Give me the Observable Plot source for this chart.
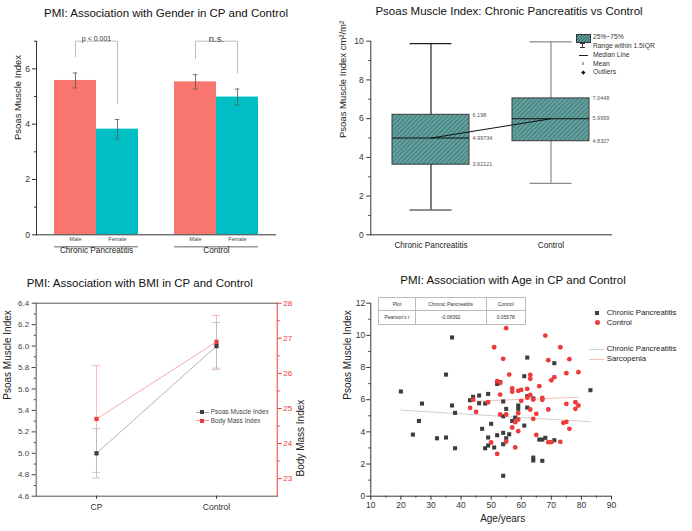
<!DOCTYPE html>
<html>
<head>
<meta charset="utf-8">
<script src="https://cdn.jsdelivr.net/npm/d3@7"></script>
<script src="https://cdn.jsdelivr.net/npm/@observablehq/plot@0.6"></script>
<style>
  html, body { margin: 0; padding: 0; background: #fff; }
  #fig { position: relative; width: 692px; height: 531px; overflow: hidden; background: #fff;
         font-family: Arial, "Liberation Sans", Helvetica, sans-serif; }
  #fig table { border-collapse: collapse; }
</style>
</head>
<body>
<div id="fig"></div>
<script>
// ---------------- Panel 1: PMI by gender ----------------
const genderGroups = ["Chronic Pancreatitis", "Control"];
const sexes = ["Male", "Female"];
const cpPmiBySex = [5.58, 3.82];
const cpSeBySex = [0.27, 0.35];
const ctrlPmiBySex = [5.53, 4.98];
const ctrlSeBySex = [0.26, 0.29];
const sigLabels = ["p < 0.001", "n.s."];
const genderTicks = [0, 2, 4, 6];
const genderMinorTicks = [1, 3, 5, 7];

// ---------------- Panel 2: box summary ----------------
const boxGroups = ["Chronic Pancreatitis", "Control"];
const boxMin = [1.28, 2.66];
const boxQ1 = [3.62121, 4.8327];
const boxMedian = [4.99734, 5.9959];
const boxQ3 = [6.198, 7.0448];
const boxMax = [9.87, 9.97];
const boxQ1Labels = ["3.62121", "4.8327"];
const boxMedianLabels = ["4.99734", "5.9959"];
const boxQ3Labels = ["6.198", "7.0448"];
const boxTicks = [0, 2, 4, 6, 8, 10];
const boxMinorTicks = [1, 3, 5, 7, 9];
const boxLegendLabels = ["25%~75%", "Range within 1.5IQR", "Median Line", "Mean", "Outliers"];

// ---------------- Panel 3: PMI and BMI ----------------
const bmiGroups = ["CP", "Control"];
const bmiPanelPmi = [5.0, 6.0];
const bmiPanelPmiErr = [0.23, 0.22];
const bmiValues = [24.7, 26.9];
const bmiErr = [1.52, 0.75];
const pmiTicks = [4.6, 4.8, 5.0, 5.2, 5.4, 5.6, 5.8, 6.0, 6.2, 6.4];
const pmiMinorTicks = [4.7, 4.9, 5.1, 5.3, 5.5, 5.7, 5.9, 6.1, 6.3];
const bmiTicks = [23, 24, 25, 26, 27, 28];
const bmiMinorTicks = [23.5, 24.5, 25.5, 26.5, 27.5];
const bmiLegendLabels = ["Psoas Muscle Index", "Body Mass Index"];

// ---------------- Panel 4: PMI vs age ----------------
const cpAge = [20,24,26,27,32,35,35,37,37,38,38,43,44,46,46,47,48,48,49,49,49,50,51,52,52,53,54,54,54,54,54,55,55,56,57,58,59,59,61,61,62,62,62,64,64,64,66,67,67,68,71,71,83];
const cpPmi = [6.51,3.83,4.68,5.76,3.6,7.56,3.65,9.87,5.64,5.18,2.98,5.97,6.18,6.26,5.78,4.19,5.76,2.98,6.36,3.65,3.15,4.5,3.03,6.98,3.79,7.09,5.89,4.97,3.94,3.23,1.27,5.43,3.6,3.85,4.68,4.89,5.64,5.43,7.46,4.39,8.62,6.22,5.51,6.08,2.4,2.22,3.52,3.52,2.2,3.63,3.48,8.27,6.59];
const ctrlAge = [43,44,45,49,50,51,52,52,53,53,53,54,55,55,55,56,57,57,57,58,58,59,59,59,59,60,60,62,62,63,63,63,63,64,64,65,65,66,67,67,68,69,69,69,70,70,71,73,73,74,75,75,75,76,76,78,78,79,79];
const ctrlPmi = [5.49,6.0,5.24,5.84,3.34,9.26,7.15,2.63,7.05,6.32,5.08,8.54,10.45,5.08,3.4,7.56,6.7,6.5,4.27,4.6,3.03,6.55,5.16,4.77,4.04,6.61,5.93,6.67,6.13,7.54,7.3,6.3,5.39,6.01,4.81,5.12,3.81,6.84,6.11,5.99,9.99,8.46,5.39,3.36,7.21,3.36,7.4,9.26,3.38,4.56,7.65,5.74,4.62,8.52,4.19,5.84,5.43,7.71,5.64];
const cpFitAge = [20, 83];
const cpFitPmi = [5.35, 4.63];
const ctrlFitAge = [43, 79];
const ctrlFitPmi = [5.9, 6.15];
const ageTicks = [10, 20, 30, 40, 50, 60, 70, 80, 90];
const ageMinorTicks = [15, 25, 35, 45, 55, 65, 75, 85];
const ageYTicks = [0, 2, 4, 6, 8, 10, 12];
const ageYMinorTicks = [1, 3, 5, 7, 9, 11];
const tableHeader = ["Plot", "Chronic Pancreatitis", "Control"];
const tableRow = ["Pearson's r", "-0.08392", "0.05578"];
const ageLegendLabels = ["Chronic Pancreatitis", "Control", "Chronic Pancreatitis", "Sarcopenia"];

const titles = [
  "PMI: Association with Gender in CP and Control",
  "Psoas Muscle Index: Chronic Pancreatitis vs Control",
  "PMI: Association with BMI in CP and Control",
  "PMI: Association with Age in CP and Control"
];

// ---------------- helpers ----------------
const FONT = "Arial, 'Liberation Sans', Helvetica, sans-serif";
const fig = document.getElementById("fig");
const baseStyle = {fontFamily: FONT, fontSize: "8.5px", color: "#333", background: "transparent", overflow: "visible"};
const RED = "#ee3a3a";
const DARK = "#3d3d3d";

function place(node, left, top) {
  const d = document.createElement("div");
  d.style.cssText = `position:absolute;left:${left}px;top:${top}px;`;
  d.appendChild(node);
  fig.appendChild(d);
}
function addText(text, x, y, o = {}) {
  const d = document.createElement("div");
  const tx = o.anchor === "start" ? "0" : o.anchor === "end" ? "-100%" : "-50%";
  d.style.cssText = `position:absolute;left:${x}px;top:${y}px;transform:translate(${tx},-50%);white-space:nowrap;` +
    `font-size:${o.size || 8}px;color:${o.color || "#222"};line-height:1;font-family:${FONT};`;
  d.textContent = text;
  fig.appendChild(d);
  return d;
}
function addShape(x, y, w, h, css) {
  const d = document.createElement("div");
  d.style.cssText = `position:absolute;left:${x}px;top:${y}px;width:${w}px;height:${h}px;${css}`;
  fig.appendChild(d);
  return d;
}

// ---------------- Panel 1 ----------------
const genderRows = genderGroups.flatMap((g, gi) => sexes.map((s, si) => ({
  group: g, sex: s,
  pmi: (gi === 0 ? cpPmiBySex : ctrlPmiBySex)[si],
  se: (gi === 0 ? cpSeBySex : ctrlSeBySex)[si]
})));
const BRACKET_TOP = 7, BRACKET_GAP = 0.58;
const bracketPts = genderGroups.flatMap(g => {
  const [m, f] = genderRows.filter(r => r.group === g);
  return [
    {group: g, sex: m.sex, y: m.pmi + m.se + BRACKET_GAP},
    {group: g, sex: m.sex, y: BRACKET_TOP},
    {group: g, sex: f.sex, y: BRACKET_TOP},
    {group: g, sex: f.sex, y: f.pmi + f.se + BRACKET_GAP}
  ];
});
const errStroke = {stroke: "#555", strokeWidth: 0.8};
const p1 = Plot.plot({
  width: 346, height: 265,
  marginLeft: 36, marginRight: 69.3, marginTop: 40.7, marginBottom: 30.7,
  style: baseStyle,
  fx: {domain: genderGroups, padding: 0, axis: null, label: null},
  x: {domain: sexes, paddingInner: 0, paddingOuter: 0.416, axis: null},
  y: {domain: [0, 7], axis: null},
  color: {domain: sexes, range: ["#F8766D", "#00BFC4"]},
  marks: [
    Plot.barY(genderRows, {fx: "group", x: "sex", y: "pmi", fill: "sex"}),
    Plot.ruleX(genderRows, {fx: "group", x: "sex", y1: d => d.pmi - d.se, y2: d => d.pmi + d.se, ...errStroke}),
    Plot.tickY(genderRows, {fx: "group", x: "sex", y: d => d.pmi - d.se, insetLeft: 18.7, insetRight: 18.7, ...errStroke}),
    Plot.tickY(genderRows, {fx: "group", x: "sex", y: d => d.pmi + d.se, insetLeft: 18.7, insetRight: 18.7, ...errStroke}),
    Plot.line(bracketPts, {fx: "group", x: "sex", y: "y", z: "group", stroke: "#bdbdbd", strokeWidth: 1}),
    Plot.text(genderGroups.slice(0, 1), {fx: d => d, text: () => sigLabels[0], frameAnchor: "top", dy: -4.7, fontSize: 7, fill: "#333"}),
    Plot.text(genderGroups.slice(1, 2), {fx: d => d, text: () => sigLabels[1], frameAnchor: "top", dy: -5.5, fontSize: 9.5, fill: "#333"}),
    Plot.ruleY([0], {stroke: "#333", strokeWidth: 1}),
    Plot.frame({anchor: "left", facetAnchor: "left", stroke: "#333"}),
    Plot.axisY(genderTicks, {anchor: "left", facetAnchor: "left", tickSize: 4, tickPadding: 2.5, fontSize: 8.5, label: null, color: "#333"}),
    Plot.axisY(genderMinorTicks, {anchor: "left", facetAnchor: "left", tickSize: 2, tickFormat: () => "", label: null, color: "#333"}),
    Plot.text(genderRows, {fx: "group", x: "sex", text: "sex", frameAnchor: "bottom", dy: 6, fontSize: 5.5, fill: "#444"}),
    Plot.tickY(genderRows, {fx: "group", x: "sex", y: 0, dy: 12, stroke: "#999", strokeWidth: 1.6}),
    Plot.text(genderGroups, {fx: d => d, text: d => d, frameAnchor: "bottom", dy: 18, fontSize: 8.2, fill: "#222"}),
    Plot.text(["Psoas Muscle Index"], {fx: () => genderGroups[0], frameAnchor: "left", rotate: -90, dx: -19, dy: 2, fontSize: 9.5, fill: "#222"})
  ]
});
place(p1, 0, 0);

// ---------------- Panel 2 ----------------
const boxRows = boxGroups.map((g, i) => ({
  group: g, min: boxMin[i], q1: boxQ1[i], median: boxMedian[i], q3: boxQ3[i], max: boxMax[i],
  q1Label: boxQ1Labels[i], medianLabel: boxMedianLabels[i], q3Label: boxQ3Labels[i]
}));
const whiskerStroke = ["#222", "#8c8c8c"];
const hatchDefs = () => {
  const defs = d3.create("svg:defs");
  const pat = defs.append("pattern").attr("id", "pmiHatch").attr("patternUnits", "userSpaceOnUse")
    .attr("width", 3.2).attr("height", 3.2).attr("patternTransform", "rotate(45)");
  pat.append("rect").attr("width", 3.2).attr("height", 3.2).attr("fill", "#62a09e");
  pat.append("line").attr("x1", 0).attr("y1", 0).attr("x2", 0).attr("y2", 3.2)
    .attr("stroke", "#2f6362").attr("stroke-width", 1.1);
  return defs.node();
};
const labelOpts = {dx: 41.5, textAnchor: "start", fontSize: 5.5, fill: "#555"};
const p2 = Plot.plot({
  width: 346, height: 265,
  marginLeft: 24.3, marginRight: 81, marginTop: 40.7, marginBottom: 30.7,
  style: baseStyle,
  x: {domain: boxGroups, paddingInner: 0.36, paddingOuter: 0.18},
  y: {domain: [0, 10]},
  color: {type: "identity"},
  marks: [
    hatchDefs,
    Plot.ruleX(boxRows, {x: "group", y1: "min", y2: "max", stroke: (d, i) => whiskerStroke[i], strokeWidth: 1.2}),
    Plot.tickY(boxRows, {x: "group", y: "min", insetLeft: 17.5, insetRight: 17.5, stroke: (d, i) => whiskerStroke[i], strokeWidth: 1.2}),
    Plot.tickY(boxRows, {x: "group", y: "max", insetLeft: 17.5, insetRight: 17.5, stroke: (d, i) => whiskerStroke[i], strokeWidth: 1.2}),
    Plot.barY(boxRows, {x: "group", y1: "q1", y2: "q3", fill: "url(#pmiHatch)", stroke: "#3a3a3a", strokeWidth: 1}),
    Plot.tickY(boxRows, {x: "group", y: "median", stroke: "#111", strokeWidth: 1.1}),
    Plot.line(boxRows, {x: "group", y: "median", stroke: "#111", strokeWidth: 1}),
    Plot.text(boxRows, {x: "group", y: "q3", text: "q3Label", ...labelOpts}),
    Plot.text(boxRows, {x: "group", y: "median", text: "medianLabel", ...labelOpts}),
    Plot.text(boxRows, {x: "group", y: "q1", text: "q1Label", ...labelOpts}),
    Plot.frame({anchor: "left", stroke: "#333"}),
    Plot.frame({anchor: "bottom", stroke: "#333"}),
    Plot.axisY(boxTicks, {tickSize: 4, tickPadding: 3, fontSize: 8.5, label: null, color: "#333"}),
    Plot.axisY(boxMinorTicks, {tickSize: 2, tickFormat: () => "", label: null, color: "#333"}),
    Plot.axisX({tickSize: 0, tickPadding: 7, fontSize: 8.2, label: null, color: "#222"}),
    Plot.text(["Psoas Muscle Index cm²/m²"], {frameAnchor: "left", rotate: -90, dx: -28, fontSize: 9.5, fill: "#222"})
  ]
});
place(p2, 346, 0);

// Panel 2 legend
addShape(576, 34.3, 15, 8.4, "box-sizing:border-box;border:1px solid #333;background:repeating-linear-gradient(135deg,#62a09e 0 1.3px,#2f6362 1.3px 2.1px);");
addShape(582.2, 42.6, 1, 5, "background:#333;");
addShape(580.2, 42.6, 5, 1, "background:#333;");
addShape(580.2, 46.8, 5, 1, "background:#333;");
addShape(578.5, 54.7, 9, 1, "background:#222;");
addShape(581.6, 62.2, 2.4, 2.4, "box-sizing:border-box;border:0.6px solid #aaa;");
addShape(581.6, 71, 2.6, 2.6, "background:#111;transform:rotate(45deg);");
const boxLegendY = [36.7, 46.3, 55.2, 63.5, 72.2];
boxLegendLabels.forEach((t, i) => addText(t, 593, boxLegendY[i], {size: 6.7, anchor: "start", color: "#333"}));

// ---------------- Panel 3 ----------------
const bmiToPmi = d3.scaleLinear().domain([22.5, 28]).range([4.6, 6.4]);
const bmiRows = bmiGroups.map((g, i) => ({
  group: g, pmi: bmiPanelPmi[i], pmiErr: bmiPanelPmiErr[i], bmi: bmiValues[i], bmiErr: bmiErr[i]
}));
const pinkErr = {stroke: "#f5a9a9", strokeWidth: 0.8};
const grayErr = {stroke: "#b8b8b8", strokeWidth: 0.8};
const p3 = Plot.plot({
  width: 346, height: 266,
  marginLeft: 35.7, marginRight: 69.3, marginTop: 37.7, marginBottom: 35.3,
  style: baseStyle,
  x: {type: "band", domain: bmiGroups, paddingInner: 0.934, paddingOuter: 0.467},
  y: {domain: [4.6, 6.4]},
  marks: [
    Plot.ruleX(bmiRows, {x: "group", y1: d => bmiToPmi(d.bmi - d.bmiErr), y2: d => bmiToPmi(d.bmi + d.bmiErr), ...pinkErr}),
    Plot.tickY(bmiRows, {x: "group", y: d => bmiToPmi(d.bmi - d.bmiErr), ...pinkErr}),
    Plot.tickY(bmiRows, {x: "group", y: d => bmiToPmi(d.bmi + d.bmiErr), ...pinkErr}),
    Plot.ruleX(bmiRows, {x: "group", y1: d => d.pmi - d.pmiErr, y2: d => d.pmi + d.pmiErr, ...grayErr}),
    Plot.tickY(bmiRows, {x: "group", y: d => d.pmi - d.pmiErr, ...grayErr}),
    Plot.tickY(bmiRows, {x: "group", y: d => d.pmi + d.pmiErr, ...grayErr}),
    Plot.line(bmiRows, {x: "group", y: d => bmiToPmi(d.bmi), stroke: "#f5a3a3", strokeWidth: 0.9}),
    Plot.line(bmiRows, {x: "group", y: "pmi", stroke: "#aaaaaa", strokeWidth: 0.9}),
    Plot.dot(bmiRows, {x: "group", y: "pmi", symbol: "square", fill: DARK, r: 2.4}),
    Plot.dot(bmiRows, {x: "group", y: d => bmiToPmi(d.bmi), symbol: "square", fill: RED, r: 2.4}),
    Plot.frame({anchor: "left", stroke: "#555"}),
    Plot.frame({anchor: "top", stroke: "#555"}),
    Plot.frame({anchor: "bottom", stroke: "#555"}),
    Plot.frame({anchor: "right", stroke: RED}),
    Plot.axisY(pmiTicks, {anchor: "left", tickSize: 4, tickPadding: 3, fontSize: 8, tickFormat: d3.format(".1f"), label: null, color: "#444"}),
    Plot.axisY(pmiMinorTicks, {anchor: "left", tickSize: 2, tickFormat: () => "", label: null, color: "#444"}),
    Plot.axisY(bmiTicks.map(bmiToPmi), {anchor: "right", tickSize: 4, tickPadding: 2, fontSize: 8,
      tickFormat: d => String(Math.round(bmiToPmi.invert(d))), label: null, color: RED}),
    Plot.axisY(bmiMinorTicks.map(bmiToPmi), {anchor: "right", tickSize: 2, tickFormat: () => "", label: null, color: RED}),
    Plot.axisX({anchor: "bottom", tickSize: 3, tickPadding: 5, fontSize: 8.5, label: null, color: "#333"}),
    Plot.text(["Psoas Muscle Index"], {frameAnchor: "left", rotate: -90, dx: -28.4, fontSize: 10, fill: "#222"}),
    Plot.text(["Body Mass Index"], {frameAnchor: "right", rotate: -90, dx: 24, fontSize: 10, fill: "#222"})
  ]
});
place(p3, 0, 265);

// Panel 3 legend
addShape(195.5, 411.5, 13, 0.8, "background:#aaa;");
addShape(199.6, 410, 4, 4, `background:${DARK};`);
addShape(195.5, 420.2, 13, 0.8, "background:#f5a3a3;");
addShape(199.6, 418.7, 4, 4, `background:${RED};`);
addText(bmiLegendLabels[0], 210.7, 412, {size: 6.5, anchor: "start", color: "#444"});
addText(bmiLegendLabels[1], 210.7, 420.7, {size: 6.5, anchor: "start", color: "#444"});

// ---------------- Panel 4 ----------------
const cpPoints = cpAge.map((a, i) => ({age: a, pmi: cpPmi[i]}));
const ctrlPoints = ctrlAge.map((a, i) => ({age: a, pmi: ctrlPmi[i]}));
const cpFit = cpFitAge.map((a, i) => ({age: a, pmi: cpFitPmi[i]}));
const ctrlFit = ctrlFitAge.map((a, i) => ({age: a, pmi: ctrlFitPmi[i]}));
const p4 = Plot.plot({
  width: 346, height: 266,
  marginLeft: 24.3, marginRight: 81, marginTop: 37.7, marginBottom: 35.3,
  style: baseStyle,
  x: {domain: [10, 90]},
  y: {domain: [0, 12]},
  marks: [
    Plot.line(cpFit, {x: "age", y: "pmi", stroke: "#cfcfcf", strokeWidth: 1}),
    Plot.line(ctrlFit, {x: "age", y: "pmi", stroke: "#f6bcbc", strokeWidth: 1}),
    Plot.dot(cpPoints, {x: "age", y: "pmi", symbol: "square", fill: DARK, r: 2.3}),
    Plot.dot(ctrlPoints, {x: "age", y: "pmi", symbol: "circle", fill: RED, r: 2.4}),
    Plot.ruleX([10], {stroke: "#333"}),
    Plot.ruleY([0], {stroke: "#333"}),
    Plot.axisY(ageYTicks, {tickSize: 4, tickPadding: 1.5, fontSize: 8.5, label: null, color: "#333"}),
    Plot.axisY(ageYMinorTicks, {tickSize: 2, tickFormat: () => "", label: null, color: "#333"}),
    Plot.axisX(ageTicks, {tickSize: 4, tickPadding: 2, fontSize: 8.5, label: null, color: "#333"}),
    Plot.axisX(ageMinorTicks, {tickSize: 2, tickFormat: () => "", label: null, color: "#333"}),
    Plot.text(["Age/years"], {frameAnchor: "bottom", dx: 11.5, dy: 25.3, fontSize: 10, fill: "#222"}),
    Plot.text(["Psoas Muscle Index"], {frameAnchor: "left", rotate: -90, dx: -23.5, fontSize: 10, fill: "#222"})
  ]
});
place(p4, 346, 265);

// Panel 4 legend
addShape(595.3, 310.7, 4, 4, `background:${DARK};`);
addShape(595.1, 320.1, 4.6, 4.6, `background:${RED};border-radius:50%;`);
addShape(588.7, 349, 15.5, 0.9, "background:#cfcfcf;");
addShape(588.7, 358.7, 15.5, 0.9, "background:#f6bcbc;");
const ageLegendY = [313, 322.5, 349.3, 359];
ageLegendLabels.forEach((t, i) => addText(t, 606.7, ageLegendY[i], {size: 7.8, anchor: "start", color: "#222"}));

// Panel 4 table
const tbl = document.createElement("table");
tbl.style.cssText = "position:absolute;left:378.3px;top:296.7px;width:143.4px;height:25.6px;background:#fff;" +
  `font-family:${FONT};font-size:5px;color:#333;table-layout:fixed;border:0.8px solid #999;`;
const colW = [35.4, 70, 38];
[tableHeader, tableRow].forEach(row => {
  const tr = document.createElement("tr");
  row.forEach((v, j) => {
    const td = document.createElement("td");
    td.textContent = v;
    td.style.cssText = `width:${colW[j]}px;border:0.6px solid #bbb;text-align:center;padding:0;height:12.8px;line-height:1;white-space:nowrap;`;
    tr.appendChild(td);
  });
  tbl.appendChild(tr);
});
fig.appendChild(tbl);

// ---------------- Titles ----------------
addText(titles[0], 166, 14, {size: 11.5, color: "#111"});
addText(titles[1], 509, 12, {size: 11.5, color: "#111"});
addText(titles[2], 139.7, 284, {size: 11.5, color: "#111"});
addText(titles[3], 513, 281, {size: 11.5, color: "#111"});
</script>
</body>
</html>
